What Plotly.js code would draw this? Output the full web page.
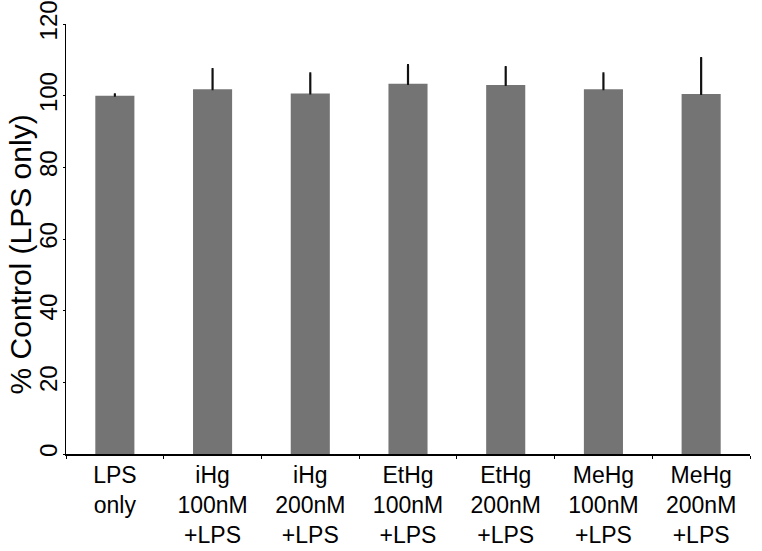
<!DOCTYPE html>
<html>
<head>
<meta charset="utf-8">
<script src="https://cdn.plot.ly/plotly-3.0.1.min.js"></script>
<style>html,body{margin:0;padding:0;background:#fff}#chart{width:762px;height:551px}</style>
</head>
<body>
<div id="chart"></div>
<script>
const categories = ["LPS<br>only", "iHg<br>100nM<br>+LPS", "iHg<br>200nM<br>+LPS", "EtHg<br>100nM<br>+LPS", "EtHg<br>200nM<br>+LPS", "MeHg<br>100nM<br>+LPS", "MeHg<br>200nM<br>+LPS"];
const values = [100, 101.8, 100.6, 103.3, 103.0, 101.8, 100.5];
const errors = [0.4, 5.6, 5.6, 5.2, 5.0, 4.4, 10.0];
const yTicks = [0, 20, 40, 60, 80, 100, 120];
const yTitle = "% Control (LPS only)";

const trace = {
  type: "bar",
  x: categories,
  y: values,
  width: 0.4,
  marker: {color: "#747474", line: {width: 0}},
  error_y: {
    type: "data",
    symmetric: false,
    array: errors,
    arrayminus: errors.map(() => 0),
    color: "#111111",
    thickness: 2.2,
    width: 1
  },
  hoverinfo: "none"
};

const layout = {
  width: 762, height: 551,
  margin: {l: 66, r: 12, t: 24, b: 97},
  paper_bgcolor: "#ffffff",
  plot_bgcolor: "#ffffff",
  showlegend: false,
  font: {family: "Liberation Sans, Arial, sans-serif", color: "#000"},
  xaxis: {
    type: "category",
    range: [-0.5, 6.5],
    showline: true, linecolor: "#000", linewidth: 1.5,
    ticks: "outside", tickson: "boundaries", ticklen: 3, tickcolor: "#000", tickwidth: 1,
    showgrid: false, zeroline: false,
    tickfont: {size: 23, family: "Liberation Sans, Arial, sans-serif", color: "#000"},
    automargin: false,
    fixedrange: true
  },
  yaxis: {
    range: [0, 120],
    tickmode: "array",
    tickvals: yTicks,
    ticktext: yTicks.map(String),
    tickangle: -90,
    showline: true, linecolor: "#000", linewidth: 1.5,
    ticks: "outside", ticklen: 2, tickcolor: "#000", tickwidth: 1,
    ticklabelstandoff: -4,
    showgrid: false, zeroline: false,
    tickfont: {size: 24, family: "Liberation Sans, Arial, sans-serif", color: "#000"},
    automargin: false,
    fixedrange: true
  },
  annotations: [{
    text: yTitle,
    xref: "paper", yref: "paper",
    x: 0, y: 0.464,
    xshift: -46,
    xanchor: "center", yanchor: "middle",
    textangle: -90,
    showarrow: false,
    font: {size: 30, family: "Liberation Sans, Arial, sans-serif", color: "#000"}
  }]
};

Plotly.newPlot("chart", [trace], layout, {displayModeBar: false, staticPlot: true});
</script>
</body>
</html>
